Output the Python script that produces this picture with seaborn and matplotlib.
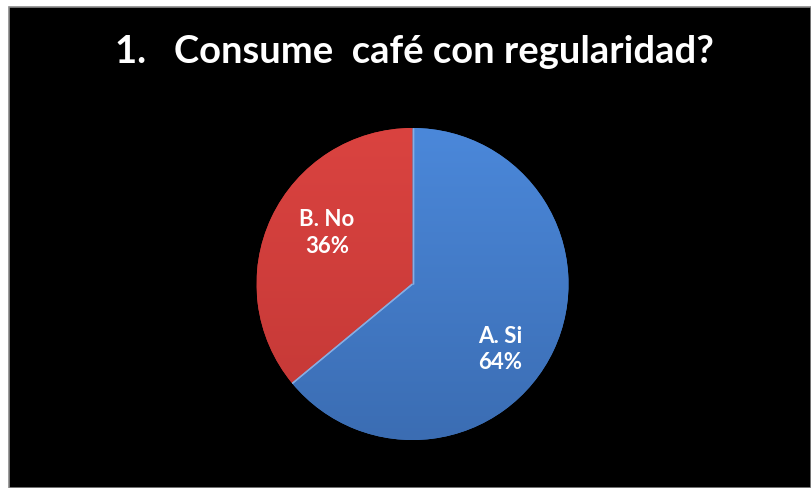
import matplotlib
matplotlib.use("Agg")
import matplotlib.pyplot as plt
from matplotlib.patches import Rectangle
from matplotlib.colors import LinearSegmentedColormap
import numpy as np
import seaborn as sns

# Survey answers
categories = ["A. Si", "B. No"]
shares = [64, 36]
title_text = "1.   Consume  café con regularidad?"

sns.set_theme(style="white")
plt.rcParams["font.family"] = ["Lato", "DejaVu Sans"]

W, H, DPI = 811, 488, 100
fig = plt.figure(figsize=(W / DPI, H / DPI), dpi=DPI, facecolor="white")

# black slide panel with a thin grey frame
fig.patches.append(Rectangle((9 / W, 0), 1 - 9 / W, 1 - 7 / H, transform=fig.transFigure,
                             facecolor="black", edgecolor="#8a8a8a", linewidth=1.2, zorder=-5))

palette = sns.color_palette(["#4680CE", "#D03A3A"])
# top / bottom tones used to give each slice a soft vertical shading
shade = {"A. Si": ("#4B88DA", "#3B6DB3"), "B. No": ("#DA4340", "#C33836")}

cx, cy, r = 412.5, 284, 156
ax = fig.add_axes([(cx - r) / W, (H - cy - r) / H, 2 * r / W, 2 * r / H])
ax.set_zorder(2)
ax.set_facecolor("none")
wedges, _ = ax.pie(shares, colors=palette, startangle=90, counterclock=False,
                   wedgeprops=dict(edgecolor="none", linewidth=0))

grad = np.linspace(0, 1, 256).reshape(-1, 1)
for cat, wedge in zip(categories, wedges):
    cmap = LinearSegmentedColormap.from_list(cat, list(shade[cat]))
    im = ax.imshow(grad, cmap=cmap, extent=(-1, 1, -1, 1), origin="upper",
                   aspect="auto", zorder=wedge.get_zorder() + 0.1)
    im.set_clip_path(wedge)

# light seam along the radial boundaries
for wedge in wedges:
    th1, th2 = np.deg2rad(wedge.theta1), np.deg2rad(wedge.theta2)
    for th in (th1, th2):
        ax.plot([0, np.cos(th)], [0, np.sin(th)], color="#86AEE3", lw=1.0,
                zorder=5, solid_capstyle="butt")

ax.set_xlim(-1, 1)
ax.set_ylim(-1, 1)
ax.set_aspect("equal")
ax.axis("off")

# labels inside the slices
label_pos = {"A. Si": (0.56, -0.42), "B. No": (-0.548, 0.327)}
for cat, val in zip(categories, shares):
    x, y = label_pos[cat]
    ax.text(x, y, f"{cat}\n{val}%", ha="center", va="center", color="white",
            fontsize=16, fontweight="bold", linespacing=1.3, zorder=6)

t = fig.text(414 / W, 1 - 63 / H, title_text, ha="center", va="baseline",
             color="white", fontsize=25, fontweight="bold", zorder=3)
fig.canvas.draw()
w = t.get_window_extent().width
t.set_fontsize(25 * 598 / w)

fig.savefig("out.png", dpi=DPI, facecolor="white")
